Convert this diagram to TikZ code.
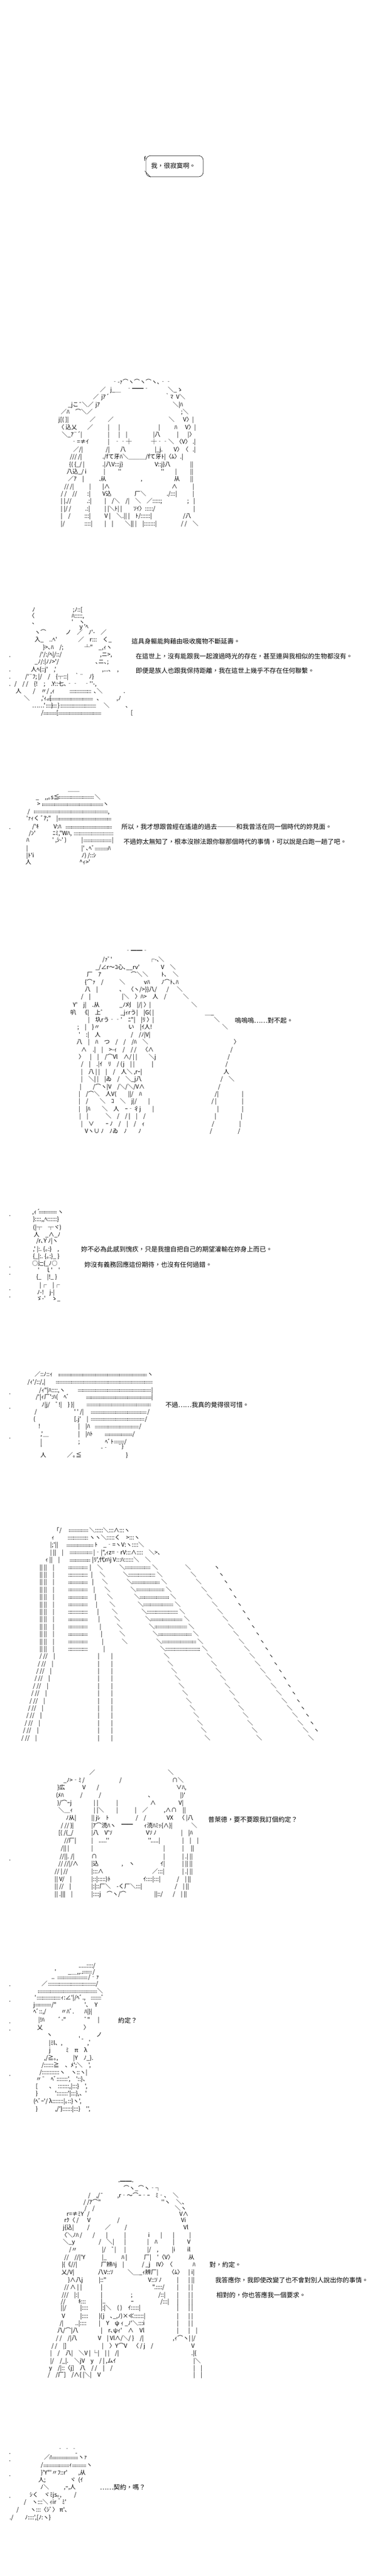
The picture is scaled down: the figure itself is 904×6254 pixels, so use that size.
\documentclass[tikz,border=0pt]{standalone}
\usepackage{fontspec}
\newfontfamily\tcfont{Noto Sans CJK TC}
\newfontfamily\jpfont{Noto Sans CJK JP}
\newcounter{nn}
\tikzset{
  tx/.style={anchor=base west, inner sep=0pt, font=\tcfont\fontsize{15.5}{18}\selectfont},
  aa/.style={anchor=base west, inner sep=0pt, font=\jpfont\fontsize{14}{18}\selectfont},
  dotrowstyle/.style={line width=0.7pt, dash pattern=on 0.7pt off 1.7pt},
  bubble/.style={draw, line width=0.8pt, rounded corners=11pt, inner sep=0pt}
}
\newcommand\txput[3]{\stepcounter{nn}\node[tx] (t\the\value{nn}) at (#1,#2+6) {#3};}
\newcommand\aaput[3]{\stepcounter{nn}\node[aa] (a\the\value{nn}) at (#1,#2+5) {#3};}
\newcommand\fillrowaa[3]{\draw[dotrowstyle] (#1,#3-1) -- (#2,#3-1); \draw[dotrowstyle] (#1,#3+3) -- (#2,#3+3);}
\begin{document}
\begin{tikzpicture}[x=1pt,y=-1pt]
\fill[white] (0,0) rectangle (904,6254);
\useasboundingbox (0,0) rectangle (904,6254);

% ---------- bubble ----------
\node[bubble, minimum width=139pt, minimum height=51pt] (bub) at (424.5,403.5) {};
\draw[line width=0.7pt] (352,415) -- (366,430);
\aaput{350}{386}{f}
\txput{367}{403}{我，很寂寞啊。}

% ---------- figure 1 ----------
\aaput{272}{928}{‐-ｧ⌒ヽ⌒ヽ⌒ヽ､‐‐}
\aaput{243}{946}{／} \aaput{268}{946}{j\_＿} \aaput{307}{944}{‐━━‐} \aaput{408}{946}{＼\_ゝ}
\aaput{226}{964}{／} \aaput{246}{964}{jｱ´} \aaput{400}{964}{｀ﾏ} \aaput{428}{964}{V＼}
\aaput{165}{982}{\_jこ¯＼／} \aaput{232}{982}{jｱ} \aaput{420}{982}{＼|ﾊ}
\aaput{148}{1000}{／ﾊ　⌒＼／} \aaput{440}{1000}{;＼}
\aaput{142}{1019}{j[( ]|} \aaput{218}{1019}{／} \aaput{262}{1019}{／} \aaput{410}{1019}{＼} \aaput{445}{1019}{V〉|}
\aaput{142}{1037}{〈 込乂} \aaput{212}{1037}{／} \aaput{262}{1037}{|} \aaput{288}{1037}{|} \aaput{385}{1037}{|} \aaput{424}{1037}{ﾊ} \aaput{450}{1037}{V〉|}
\aaput{150}{1055}{＼\_ｱ¨´|} \aaput{262}{1055}{|} \aaput{288}{1055}{|　|} \aaput{372}{1055}{|八} \aaput{430}{1055}{|} \aaput{456}{1055}{|〉}
\aaput{173}{1073}{‐=≠ｲ} \aaput{262}{1073}{|} \aaput{278}{1073}{‐‐┼} \aaput{367}{1073}{┼‐‐＼} \aaput{428}{1073}{〈V〉} \aaput{468}{1073}{.|}
\aaput{178}{1091}{／/|} \aaput{257}{1091}{/|} \aaput{292}{1091}{八} \aaput{376}{1091}{|\_j.} \aaput{422}{1091}{V〉〈} \aaput{468}{1091}{.|}
\aaput{170}{1109}{/// /|} \aaput{249}{1109}{./fて牙ﾊ＼＿＿＿/fて牙ﾄ|〈ﾑ〉.|}
\aaput{168}{1127}{\{( \{\_/ |} \aaput{249}{1127}{.|八V:::j\}} \aaput{376}{1127}{V::j\}八} \aaput{462}{1127}{||}
\aaput{162}{1145}{八込\_/ i} \aaput{252}{1145}{|} \aaput{287}{1145}{''} \aaput{391}{1145}{''} \aaput{426}{1145}{|} \aaput{462}{1145}{||}
\aaput{165}{1163}{／ｱ　|} \aaput{240}{1163}{.从} \aaput{342}{1163}{,} \aaput{423}{1163}{从} \aaput{462}{1163}{||}
\aaput{156}{1181}{// /|} \aaput{217}{1181}{|} \aaput{249}{1181}{|∧} \aaput{417}{1181}{∧} \aaput{468}{1181}{|}
\aaput{148}{1199}{/ /　//} \aaput{212}{1199}{:|} \aaput{249}{1199}{V込} \aaput{327}{1199}{厂＼} \aaput{405}{1199}{./:::|} \aaput{468}{1199}{|}
\aaput{148}{1217}{| |.//} \aaput{211}{1217}{.:|} \aaput{254}{1217}{|　/＼　/|　＼　／:::::;} \aaput{455}{1217}{;} \aaput{470}{1217}{|}
\aaput{148}{1235}{| |/ /} \aaput{207}{1235}{.:|} \aaput{254}{1235}{| |＼ﾄ| |　　ｿｲ〉:::::/} \aaput{470}{1235}{|}
\aaput{148}{1253}{|　/} \aaput{205}{1253}{:::|} \aaput{254}{1253}{V |　＼.|| |　ﾄ/::::::|} \aaput{445}{1253}{/八}
\aaput{148}{1271}{|/} \aaput{205}{1271}{::::|} \aaput{254}{1271}{|　|　　＼|| |　|:::::::|} \aaput{440}{1271}{/ /　＼}

% ---------- figure 2 ----------
\aaput{78}{1480}{ﾉ} \aaput{177}{1480}{;ﾉ::[}
\aaput{70}{1495}{〈} \aaput{174}{1495}{ﾊ:::::,}
\aaput{78}{1510}{､} \aaput{174}{1510}{'　ヽ}
\aaput{190}{1522}{ｙ'ﾍ}
\aaput{84}{1535}{ヽ⌒} \aaput{159}{1535}{ノ　／　ﾉ'-　／}
\aaput{84}{1553}{入\_　..ﾍ'} \aaput{190}{1553}{／　r:::　く\_}
\aaput{104}{1571}{\}>､ﾊ　/;} \aaput{205}{1571}{┴"　\_,ｨヽ}
\aaput{96}{1589}{/'/:/ﾍ|/::/} \aaput{243}{1589}{,ニ>,}
\aaput{84}{1607}{\_ﾉ/:|ﾉﾉ>'/} \aaput{232}{1607}{､ニ､;}
\aaput{75}{1625}{人ﾍ\{::j'　,'} \aaput{248}{1625}{,...､　,}
\aaput{61}{1643}{/'¨ﾌ; |/　/　\{┬::|　｀¨　ﾉ\}}
\aaput{35}{1660}{/　/ /　\{!　;　.Y::七､‐‐　‐''-,}
\aaput{38}{1678}{人　　/　〃/ ,ｨ} \fillrowaa{170}{222}{1678} \aaput{228}{1678}{､＼} \aaput{300}{1678}{.}
\aaput{58}{1696}{＼　　,'ｨ｡[} \fillrowaa{118}{225}{1696} \aaput{235}{1696}{､} \aaput{283}{1696}{,ﾉ}
\aaput{78}{1713}{……'　\}} \fillrowaa{112}{138}{1713} \aaput{140}{1713}{\}} \fillrowaa{147}{232}{1713} \aaput{252}{1713}{＼} \aaput{305}{1713}{､}
\aaput{100}{1731}{/} \fillrowaa{106}{135}{1731} \aaput{137}{1731}{[} \fillrowaa{143}{245}{1731} \aaput{318}{1731}{[}
\aaput{22}{1590}{.} \aaput{22}{1625}{.} \aaput{22}{1643}{.} \aaput{22}{1660}{.}
\txput{320}{1557}{這具身軀能夠藉由吸收魔物不斷延壽。}
\txput{330}{1593}{在這世上，沒有能跟我一起渡過時光的存在，甚至連與我相似的生物都沒有。}
\txput{330}{1628}{即便是族人也跟我保持距離，我在這世上幾乎不存在任何聯繫。}

% ---------- figure 3 ----------
\aaput{165}{1916}{＿＿}
\aaput{87}{1935}{\_　,,｡s≦} \fillrowaa{142}{228}{1935} \aaput{230}{1935}{＼}
\aaput{90}{1952}{>} \fillrowaa{102}{250}{1952} \aaput{250}{1952}{ヽ}
\aaput{67}{1970}{/} \fillrowaa{82}{262}{1970} \aaput{262}{1970}{,}
\aaput{64}{1987}{'ｧｨく ﾞｱ;"} \aaput{137}{1987}{|} \fillrowaa{142}{270}{1987}
\aaput{78}{2007}{/'ｷ} \aaput{130}{2007}{V:ﾊ} \fillrowaa{160}{272}{2007}
\aaput{70}{2023}{/ﾝ'} \aaput{128}{2023}{ﾆﾐ,"Wﾊ,} \fillrowaa{180}{274}{2023}
\aaput{64}{2040}{ﾊ} \aaput{127}{2040}{' ,ｼ-' )} \aaput{198}{2040}{|} \fillrowaa{204}{270}{2040} \aaput{272}{2040}{|}
\aaput{64}{2060}{|} \aaput{198}{2060}{|' ､ﾍﾞ} \fillrowaa{232}{262}{2060} \aaput{262}{2060}{ﾊ}
\aaput{64}{2077}{|ﾄ'i} \aaput{198}{2077}{ﾉ) /::ｼ}
\aaput{62}{2093}{人} \aaput{193}{2093}{\^{}ｨ>'}
\aaput{22}{2008}{.}
\txput{295}{2007}{所以，我才想跟曾經在遙遠的過去―――和我曾活在同一個時代的妳見面。}
\txput{300}{2043}{不過妳太無知了，根本沒辦法跟你聊那個時代的事情，可以說是白跑一趟了吧。}

% ---------- figure 4 ----------
\aaput{304}{2308}{‐━━‐}
\aaput{249}{2330}{/ｧﾞ'} \aaput{362}{2330}{┌-､} \aaput{385}{2330}{＼}
\aaput{232}{2348}{\_/∠r～ｺ心､\_\_rv'} \aaput{391}{2348}{V　＼}
\aaput{211}{2366}{厂　ｱ} \aaput{318}{2366}{⌒＼＼} \aaput{392}{2366}{ﾄ､　＼}
\aaput{206}{2384}{\{⌒ｧ　/} \aaput{290}{2384}{＼} \aaput{350}{2384}{vﾊ} \aaput{392}{2384}{ﾉ⌒ﾄ､ﾊ}
\aaput{206}{2402}{八　|} \aaput{290}{2402}{､　〈ヽ/>\}\}八/} \aaput{405}{2402}{/} \aaput{430}{2402}{＼}
\aaput{197}{2420}{/　|} \aaput{296}{2420}{|＼　〉ﾊ>　人　/} \aaput{445}{2420}{＼}
\aaput{177}{2440}{Y'　j|　.从} \aaput{290}{2440}{\_ﾉ刈　|/| 〉|} \aaput{465}{2440}{＼}
\aaput{171}{2458}{叭　《|　上ﾞ} \aaput{293}{2458}{\_jｨrう|　|G( |} \aaput{498}{2458}{＿\_}
\aaput{214}{2476}{|　圦rう‐‐'　ﾆ"|　|ﾘ 〉|} \aaput{520}{2476}{＼}
\aaput{188}{2494}{;　|　\}〃} \aaput{312}{2494}{い　|ｲ人!} \aaput{540}{2494}{＼}
\aaput{191}{2512}{'　:|　人} \aaput{318}{2512}{/　/ﾉ|V|}
\aaput{186}{2530}{八　|　ﾊ　つ　/　/　/ﾊ　＼} \aaput{568}{2530}{〉}
\aaput{197}{2548}{∧　.|　|　>-ｨ　/　/ /　〈∧} \aaput{560}{2548}{/}
\aaput{191}{2566}{〉　|　|　/⌒Vl　∧/ | |　　＼j} \aaput{553}{2566}{/}
\aaput{197}{2584}{/　|　.|ｲ　ﾘ　/ (j　| |　　　|} \aaput{548}{2584}{/}
\aaput{197}{2602}{|　八 | |　|　/　人＼ ,rｰ|} \aaput{543}{2602}{人}
\aaput{197}{2620}{|　＼| |　|ゐ　/　＼\_j八} \aaput{536}{2620}{/　＼}
\aaput{194}{2638}{|　　/⌒ヽ|V　/＼/＼/V∧} \aaput{530}{2638}{/}
\aaput{191}{2656}{|　/⌒＼　人V(　　||/　ﾊ} \aaput{522}{2656}{/|} \aaput{588}{2656}{|}
\aaput{191}{2674}{|　/　　＼　ｺ　＼　j|/　　|} \aaput{514}{2674}{/ |} \aaput{588}{2674}{|}
\aaput{191}{2692}{|　|ﾊ　　＼　人　ｰ‐彳j　　|} \aaput{528}{2692}{|} \aaput{588}{2692}{|}
\aaput{193}{2710}{|　|　　　＼　/　/ |　|　/} \aaput{522}{2710}{|} \aaput{585}{2710}{|}
\aaput{197}{2728}{|　∨　　ｰ ﾉ　/　|　/　ｨ} \aaput{515}{2728}{/} \aaput{582}{2728}{|}
\aaput{206}{2746}{Vヽ∪ ﾉ　ﾉゐ　ﾉ　　ﾉ} \aaput{510}{2746}{/} \aaput{578}{2746}{/}
\txput{571}{2477}{嗚嗚嗚……對不起。}

% ---------- figure 5 ----------
\aaput{78}{2942}{,ｨ´} \fillrowaa{95}{138}{2942} \aaput{140}{2942}{ヽ}
\aaput{80}{2960}{\}::::,,ﾍ::::::\}}
\aaput{80}{2980}{(|┬　┬ヾ)}
\aaput{82}{2997}{人　\_∧\_ﾉ}
\aaput{88}{3013}{/r､Y ﾉ|ヽ}
\aaput{80}{3033}{,' |:. \{｡:\}　,}
\aaput{80}{3050}{\{\_|:. \{｡:\}\_ \}}
\aaput{78}{3068}{○辷\{\_ﾉ○}
\aaput{92}{3084}{'　ｌ'　'}
\aaput{88}{3100}{\{\_　|!\_ \}}
\aaput{96}{3120}{|┌　|┌}
\aaput{90}{3138}{ﾉ-!　j-|}
\aaput{88}{3152}{ゞ-'　ゝ\_}
\aaput{22}{2947}{.} \aaput{22}{3072}{.} \aaput{22}{3090}{.} \aaput{22}{3127}{.} \aaput{22}{3145}{.}
\txput{197}{3033}{妳不必為此感到愧疚，只是我擅自把自己的期望灌輸在妳身上而已。}
\txput{205}{3070}{妳沒有義務回應這份期待，也沒有任何過錯。}

% ---------- figure 6 ----------
\aaput{84}{3337}{／::ﾉ::ｨ} \fillrowaa{142}{356}{3337} \aaput{358}{3337}{ヽ}
\aaput{67}{3355}{/ｨ'/::/,|} \fillrowaa{136}{370}{3355}
\aaput{95}{3375}{/ｨ"|ﾊ::::,ヽ} \fillrowaa{190}{367}{3375} \aaput{368}{3375}{|}
\aaput{87}{3392}{/'|ｨ厂':ﾊ(　ﾍﾞ} \fillrowaa{210}{367}{3392} \aaput{368}{3392}{|}
\aaput{101}{3410}{ﾉ|j/　ﾞ!|　\} \}|} \fillrowaa{212}{368}{3410}
\aaput{84}{3428}{/} \aaput{180}{3428}{' ' /|} \fillrowaa{222}{356}{3428} \aaput{358}{3428}{/}
\aaput{81}{3445}{(} \aaput{180}{3445}{[.j'　|} \fillrowaa{222}{350}{3445} \aaput{352}{3445}{/}
\aaput{93}{3463}{!} \aaput{190}{3463}{|　|ﾊ} \fillrowaa{232}{336}{3463} \aaput{338}{3463}{/}
\aaput{98}{3482}{,'＿} \aaput{190}{3482}{|　|ﾊﾄ} \fillrowaa{255}{320}{3482} \aaput{322}{3482}{/}
\aaput{98}{3500}{|} \aaput{190}{3500}{;} \aaput{255}{3500}{ﾍﾞﾄ} \fillrowaa{278}{300}{3500} \aaput{302}{3500}{/}
\aaput{98}{3515}{'} \aaput{245}{3515}{-‐} \aaput{287}{3511}{¯\}}
\aaput{98}{3533}{人} \aaput{163}{3533}{／｡≦} \aaput{306}{3533}{\}}
\aaput{22}{3380}{.} \aaput{22}{3415}{.} \aaput{22}{3488}{.}
\txput{402}{3410}{不過……我真的覺得很可惜。}

% ---------- figure 7 ----------
\aaput{130}{3715}{「/} \fillrowaa{167}{215}{3715} \aaput{217}{3715}{＼:::::＼:::∧:::ヽ}
\aaput{125}{3733}{ｨ} \fillrowaa{165}{215}{3733} \aaput{217}{3733}{ヽヽ＼:::::く　>:::ヽ}
\aaput{122}{3751}{|;'||} \fillrowaa{163}{226}{3751} \aaput{230}{3751}{ﾄ　\_‐=ヽV:ヽ::::＼}
\aaput{122}{3769}{| ||　|} \fillrowaa{170}{224}{3769} \aaput{227}{3769}{|‐|",ｨz=‐rV:::∧::::　＼>､}
\aaput{110}{3787}{ｨ ||　|} \fillrowaa{170}{220}{3787} \aaput{224}{3787}{|ﾘ',代rﾊj V:::ﾊ::::::＼　＼}
\foreach \i in {0,...,23}{
  \pgfmathsetmacro\yy{3805+18*\i}
  \ifnum\i<12
    \node[aa] (f7l\i) at (96,\yy+5) {|| ||　|};
    \draw[dotrowstyle] (166,\yy-1) -- (212,\yy-1);
    \draw[dotrowstyle] (166,\yy+3) -- (212,\yy+3);
    \node[aa] (f7m\i) at ({218+3*\i},\yy+5) {|};
    \draw[dotrowstyle] ({304+9*\i},\yy-1) -- ({366+11*\i},\yy-1);
    \draw[dotrowstyle] ({304+9*\i},\yy+3) -- ({366+11*\i},\yy+3);
  \else
    \node[aa] (f7l\i) at ({96-4*(\i-12)},\yy+5) {/ //　|};
    \node[aa] (f7m\i) at (238,\yy+5) {|　　|};
  \fi
  \ifnum\i<11
    \node[aa] (f7a\i) at ({236+6*\i},\yy+5) {＼};
  \fi
  \node[aa] (f7b\i) at ({290+9*\i},\yy+5) {＼};
  \node[aa] (f7c\i) at ({370+11*\i},\yy+5) {＼};
  \node[aa] (f7d\i) at ({450+13*\i},\yy+5) {＼};
  \ifnum\i<23
    \node[aa] (f7e\i) at ({520+11*\i},\yy+5) {ヽ};
  \fi
}

% ---------- figure 8 ----------
\aaput{217}{4303}{／} \aaput{408}{4303}{＼}
\aaput{154}{4322}{\_ﾉ>‐ﾐ} \aaput{200}{4322}{/} \aaput{290}{4322}{/} \aaput{418}{4322}{∩＼}
\aaput{139}{4340}{\}広} \aaput{200}{4340}{V} \aaput{235}{4340}{/} \aaput{428}{4340}{∨ﾊ,}
\aaput{136}{4358}{(ﾒﾊ} \aaput{195}{4358}{/} \aaput{240}{4358}{/} \aaput{360}{4358}{､} \aaput{438}{4358}{|)'}
\aaput{139}{4377}{)/⌒ｰj} \aaput{228}{4377}{| |} \aaput{283}{4377}{|} \aaput{365}{4377}{∧} \aaput{434}{4377}{V|}
\aaput{142}{4395}{＼＿ｨ} \aaput{228}{4395}{| |＼} \aaput{283}{4395}{|} \aaput{328}{4395}{|　／} \aaput{398}{4395}{,∧∩　||}
\aaput{160}{4413}{ﾉ从|} \aaput{222}{4413}{|| jﾚ　ﾄ} \aaput{330}{4413}{/　/} \aaput{405}{4413}{VX　〈 |八}
\aaput{148}{4432}{/ // \}|} \aaput{222}{4432}{|ｱ⌒涜ﾊヽ} \aaput{295}{4430}{━━} \aaput{350}{4432}{ｨ涜ﾊﾐｯ\{∧\}|} \aaput{465}{4432}{＼}
\aaput{142}{4450}{[( /(\_/} \aaput{222}{4450}{|八　V'ｿ} \aaput{355}{4450}{Vｿ ﾉ} \aaput{440}{4450}{|　|ﾊ}
\aaput{156}{4468}{//厂|} \aaput{222}{4468}{|　.....''} \aaput{360}{4468}{''.....|} \aaput{443}{4468}{|　|　|}
\aaput{148}{4487}{/|| |} \aaput{222}{4487}{|} \aaput{397}{4487}{|} \aaput{443}{4487}{|　 ||}
\aaput{145}{4507}{//||. /|} \aaput{222}{4507}{∩} \aaput{397}{4507}{|} \aaput{443}{4507}{| .| ||}
\aaput{142}{4525}{// //|/∧} \aaput{222}{4525}{|込} \aaput{295}{4525}{,　ヽ} \aaput{390}{4525}{ｲ|} \aaput{443}{4525}{| || ||}
\aaput{133}{4543}{// | //} \aaput{222}{4543}{|:::∧} \aaput{370}{4543}{／:::|} \aaput{443}{4543}{| .| ||}
\aaput{133}{4562}{|| V/　|} \aaput{222}{4562}{|::|:::::)ﾄ} \aaput{348}{4562}{ｲ::::|:::|} \aaput{430}{4562}{/　| ||}
\aaput{133}{4580}{|| //　|} \aaput{222}{4580}{|:|::厂＼　-く厂＼:::|} \aaput{425}{4580}{/　| ||}
\aaput{133}{4598}{|| .|||　|} \aaput{222}{4598}{|::::j　⌒ヽ/⌒} \aaput{375}{4598}{||::/} \aaput{420}{4598}{/　| ||}
\aaput{22}{4512}{.}
\txput{506}{4418}{普萊德，要不要跟我訂個約定？}

% ---------- figure 9 ----------
\aaput{191}{4772}{.....::::/}
\aaput{133}{4787}{'} \aaput{165}{4787}{\_＿,,..} \fillrowaa{200}{224}{4787} \aaput{225}{4787}{/}
\aaput{125}{4800}{..} \fillrowaa{140}{212}{4800} \aaput{214}{4800}{/‐ｧ}
\aaput{101}{4816}{／} \fillrowaa{118}{232}{4816} \aaput{233}{4816}{/}
\fillrowaa{92}{236}{4834} \aaput{236}{4834}{＼}
\aaput{84}{4850}{'} \fillrowaa{90}{146}{4850} \aaput{148}{4850}{ｨ:∠'|/ﾍﾞ.,} \fillrowaa{222}{244}{4850} \aaput{246}{4850}{ﾞ}
\aaput{81}{4867}{j} \fillrowaa{86}{123}{4867} \aaput{125}{4867}{/"} \aaput{205}{4867}{'､　Y}
\aaput{81}{4884}{ﾍﾞ::,/} \aaput{148}{4884}{〃ﾊﾞ.} \aaput{205}{4884}{ﾊ|\}|}
\aaput{93}{4904}{|!ﾊ} \aaput{142}{4904}{ﾞ-"} \aaput{205}{4904}{ﾞ"} \aaput{238}{4904}{|}
\aaput{90}{4922}{乂} \aaput{203}{4922}{〉}
\aaput{113}{4940}{ヽ} \aaput{234}{4940}{ノ}
\aaput{191}{4950}{' -}
\aaput{119}{4960}{|ﾐl、,} \aaput{212}{4960}{,ﾟ}
\aaput{119}{4978}{j} \aaput{160}{4978}{ﾐ　π　λ}
\aaput{107}{4996}{,/≧｡,} \aaput{178}{4996}{|Y　ﾉ\_\}.}
\aaput{101}{5014}{/::::::≧　、ﾒ';＼　',}
\aaput{96}{5031}{/:::::::::::ヽ　ヽ::ヽ|}
\aaput{87}{5048}{〃¯　ﾍﾞ:::::::',　'::\}、}
\aaput{87}{5065}{[　　､　:::::::,|:::\}　',}
\aaput{87}{5082}{\}　　　':::::::'|:::\},、'}
\aaput{81}{5101}{(ﾍﾞｰ'/ λ:::::::|｡::\}ヽ',}
\aaput{87}{5120}{\}　　　,/'\}::::::|:::\}　'',}
\aaput{22}{4818}{.} \aaput{22}{4855}{.} \aaput{22}{4907}{.} \aaput{22}{4925}{.} \aaput{22}{5035}{.}
\txput{287}{4905}{約定？}

% ---------- figure 10 ----------
\aaput{287}{5296}{-━━-}
\aaput{300}{5313}{⌒ヽ\_⌒ヽ‐┐}
\aaput{214}{5330}{/　,/¯} \aaput{285}{5330}{,r‐～⌒ｰ‐ｰ} \aaput{378}{5330}{ﾐ‐､} \aaput{420}{5330}{＼}
\aaput{203}{5346}{/ /ｱ⌒"} \aaput{392}{5346}{''ヽ} \aaput{428}{5346}{＼、}
\aaput{205}{5362}{/　/} \aaput{425}{5362}{＼ヽ}
\aaput{162}{5375}{r=≠ﾐY} \aaput{212}{5375}{/} \aaput{436}{5375}{V∧}
\aaput{156}{5390}{rｸ〈 /} \aaput{212}{5390}{V} \aaput{285}{5390}{/} \aaput{440}{5390}{Vi}
\aaput{153}{5408}{j\{込|} \aaput{212}{5408}{/} \aaput{255}{5408}{／} \aaput{303}{5408}{/} \aaput{446}{5408}{Vl}
\aaput{149}{5426}{〈＼ﾉﾊ /} \aaput{225}{5426}{/} \aaput{258}{5426}{|} \aaput{302}{5426}{|} \aaput{360}{5426}{i} \aaput{390}{5426}{|} \aaput{420}{5426}{|} \aaput{460}{5426}{|}
\aaput{153}{5443}{＼\_y} \aaput{240}{5443}{/　＼|} \aaput{302}{5443}{|} \aaput{358}{5443}{|　ﾊ} \aaput{420}{5443}{|} \aaput{455}{5443}{V}
\aaput{168}{5462}{/〃} \aaput{248}{5462}{|/　ﾞ|} \aaput{302}{5462}{|} \aaput{358}{5462}{|/　,} \aaput{418}{5462}{|i} \aaput{455}{5462}{il}
\aaput{156}{5480}{//　//|'Y} \aaput{248}{5480}{|\_} \aaput{295}{5480}{ﾊ |} \aaput{350}{5480}{厂|　'〈V〉} \aaput{458}{5480}{从}
\aaput{150}{5498}{|\{《//|} \aaput{245}{5498}{厂辨ﾊj　|} \aaput{345}{5498}{/ \_j　IV〉〈} \aaput{468}{5498}{ﾊ}
\aaput{149}{5517}{乂/V|} \aaput{238}{5517}{八V::ｿ} \aaput{310}{5517}{＼＿\_ｨ辨厂|} \aaput{410}{5517}{〈ﾑ〉} \aaput{458}{5517}{| i|}
\aaput{165}{5535}{\}∧八j} \aaput{240}{5535}{|::"} \aaput{360}{5535}{V::ｿ ﾉ} \aaput{430}{5535}{|} \aaput{458}{5535}{| ||}
\aaput{156}{5553}{// ∧ |} \aaput{195}{5553}{|} \aaput{245}{5553}{|} \aaput{370}{5553}{".::::/} \aaput{430}{5553}{|} \aaput{458}{5553}{| |}
\aaput{150}{5572}{///　|:|} \aaput{245}{5572}{|} \aaput{318}{5572}{;} \aaput{385}{5572}{/::|} \aaput{430}{5572}{|} \aaput{458}{5572}{| |}
\aaput{148}{5588}{//} \aaput{190}{5588}{ｷ:::} \aaput{245}{5588}{|..} \aaput{318}{5588}{ｰ} \aaput{390}{5588}{/:::|} \aaput{430}{5588}{|} \aaput{458}{5588}{| |}
\aaput{148}{5603}{||/} \aaput{195}{5603}{|::::} \aaput{245}{5603}{|:|＼　( )　ｲ:::::|} \aaput{430}{5603}{|} \aaput{458}{5603}{| |}
\aaput{150}{5623}{V} \aaput{195}{5623}{|::::} \aaput{240}{5623}{|(j　､\_,ﾉ)×≪::::::|} \aaput{430}{5623}{|} \aaput{458}{5623}{| |}
\aaput{145}{5640}{/|} \aaput{183}{5640}{..|::::} \aaput{240}{5640}{|　Y　ψ ｨ \_ﾉ'＼:::i} \aaput{430}{5640}{|} \aaput{458}{5640}{| |}
\aaput{139}{5658}{八/⌒|八} \aaput{245}{5658}{|　r､ψｨ'　∧　Vl} \aaput{430}{5658}{|} \aaput{458}{5658}{|　|}
\aaput{136}{5677}{/ /　/|八} \aaput{238}{5677}{V　| Vl∧/＼/ \}　/|} \aaput{420}{5677}{,ｨ⌒ヽ| |/}
\aaput{125}{5695}{/ /　|]} \aaput{248}{5695}{|　〉Y⌒V　〈 / j　/} \aaput{465}{5695}{V}
\aaput{122}{5713}{|　/　八|　＼V | └|　| |　/|} \aaput{465}{5713}{.|\{}
\aaput{122}{5732}{|/　/\_|.　＼jV　y　/ | ,ムｲ} \aaput{470}{5732}{|＼}
\aaput{119}{5749}{y　/|::〈j]　八　/ /　|　/} \aaput{470}{5749}{|　|}
\aaput{116}{5766}{/　/厂]　/∧\{ |＼|　V} \aaput{470}{5766}{|　|}
\txput{509}{5498}{對，約定。}
\txput{523}{5535}{我答應你，我即使改變了也不會對別人說出你的事情。}
\txput{526}{5572}{相對的，你也答應我一個要求。}

% ---------- figure 11 ----------
\aaput{139}{5946}{‐ ‐ ‐}
\aaput{122}{5958}{,} \aaput{183}{5955}{-}
\aaput{107}{5966}{／} \fillrowaa{120}{188}{5966} \aaput{190}{5966}{ヽｧ}
\aaput{99}{5985}{/} \fillrowaa{106}{168}{5985} \aaput{168}{5985}{ｨ} \fillrowaa{176}{208}{5985} \aaput{210}{5985}{ヽ}
\aaput{99}{6003}{\}'Y"'〃ﾌ::r'} \aaput{190}{6003}{,从}
\aaput{93}{6021}{人;} \aaput{170}{6021}{ヾ} \aaput{190}{6021}{(ｲ}
\aaput{98}{6038}{ﾉ＼} \aaput{155}{6038}{,ｰ,人}
\aaput{72}{6057}{ｼく　ヾﾐjs｡,} \aaput{180}{6057}{/}
\aaput{58}{6075}{/　ヽ:::＼ ｨir＾ﾐ'}
\aaput{40}{6093}{/　　ヽ:::〈ｼﾞ〉 π'､}
\aaput{23}{6112}{./　　ﾉ::::',[ﾉ:ヽ\}}
\aaput{22}{5953}{.} \aaput{22}{5970}{.} \aaput{22}{6007}{.} \aaput{22}{6060}{.}
\txput{243}{6038}{……契約，嗎？}

\end{tikzpicture}
\end{document}
